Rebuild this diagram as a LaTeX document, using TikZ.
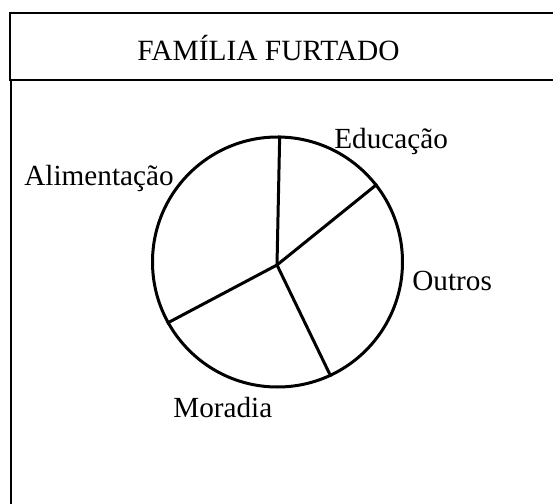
\documentclass[tikz,border=0pt]{standalone}
\usepackage{fontspec}
\setmainfont{Liberation Serif}
\usetikzlibrary{positioning,calc}

\begin{document}
\begin{tikzpicture}[x=0.5pt,y=-0.5pt]

\tikzset{every node/.style = {font=\fontsize{14.6}{17}\selectfont, inner sep=0pt, anchor=base west}}
\tikzstyle{frame} = [draw, line width=1pt]
\tikzstyle{pie}   = [circle, draw, line width=1.5pt, minimum size=125pt, anchor=center]
\tikzstyle{slice} = [line width=1.5pt]

\useasboundingbox (0,0) rectangle (553,504);
\clip (0,0) rectangle (553,504);

\draw[frame] (9.5,13) rectangle (600,80);
\draw[frame] (11,80)  rectangle (600,560);

\node[anchor=base, font=\fontsize{14.7}{17}\selectfont] (title) at (268.5,60) {FAMÍLIA FURTADO};

\node[pie]   (chart) at (277.5,262) {};
\coordinate  (mid)   at (277,265);

\draw[slice] (mid) -- (chart.89);
\draw[slice] (mid) -- (chart.38);
\draw[slice] (mid) -- (chart.-65.5);
\draw[slice] (mid) -- (chart.209);

\node (alim) at (24,185)  {Alimentação};
\node (educ) at (334,148) {Educação};
\node (outr) at (412,290) {Outros};
\node (mora) at (173,417) {Moradia};

\end{tikzpicture}
\end{document}
